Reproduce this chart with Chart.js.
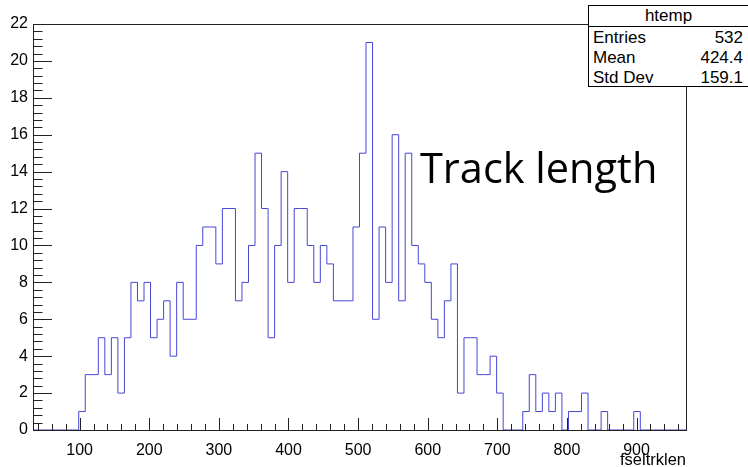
<!DOCTYPE html>
<html>
<head>
<meta charset="utf-8">
<script src="https://cdn.jsdelivr.net/npm/chart.js@4.4.1/dist/chart.umd.min.js"></script>
<style>
    body { margin: 0; background: #fff; }
    #wrap { position: relative; width: 748px; height: 467px; overflow: hidden; }
    #stats {
        position: absolute; left: 588px; top: 5px; width: 160px; height: 82px;
        border: 1px solid #000; border-right: none; background: #fff;
        font-family: "Liberation Sans", Arial, sans-serif; font-size: 17px; color: #000;
        box-sizing: border-box;
    }
    #stats .head { height: 20px; line-height: 20px; text-align: center; border-bottom: 1px solid #000; }
    #stats .row { height: 20px; line-height: 21px; display: flex; justify-content: space-between; padding: 0 5px 0 4px; }
    #note {
        position: absolute; left: 420px; top: 147px;
        font-family: "Open Sans", sans-serif; font-size: 41.5px; line-height: 41px; color: #000;
        white-space: nowrap;
    }
</style>
</head>
<body>
<div id="wrap">
    <canvas id="hist" width="748" height="467"></canvas>
    <div id="stats"></div>
    <div id="note">Track length</div>
</div>
<script>
// histogram range and bin contents (100 bins)
const xMin = 33;
const xMax = 971;
const counts = [
    0, 0, 0, 0, 0, 0, 0,
    1, 3, 3, 5, 3, 5, 2, 5, 8, 7, 8, 5, 6, 7, 4, 8, 6, 6,
    10, 11, 11, 9, 12, 12, 7, 8, 10, 15, 12, 5, 10, 14, 8, 12, 12, 10, 8, 10, 9, 7, 7, 7, 11, 15, 21,
    6, 11, 8, 16, 7, 15, 10, 9, 8, 6, 5, 7, 9, 2, 5, 5, 3, 3, 4, 2,
    0, 0, 0,
    1, 3, 1, 2, 1, 2, 0, 1, 1, 2, 0, 0, 1, 0, 0, 0, 0, 1,
    0, 0, 0, 0, 0, 0, 0
];
const xTicks = [100, 200, 300, 400, 500, 600, 700, 800, 900];
const yTicks = [0, 2, 4, 6, 8, 10, 12, 14, 16, 18, 20, 22];

// stats box
const statNames = ["Entries", "Mean", "Std Dev"];
const statValues = ["532", "424.4", "159.1"];

const stats = document.getElementById("stats");
stats.innerHTML = '<div class="head">htemp</div>' +
    statNames.map((n, i) => `<div class="row"><span>${n}</span><span>${statValues[i]}</span></div>`).join("");

// bin edges -> stepped line points
const binW = (xMax - xMin) / counts.length;
const points = counts.map((c, i) => ({ x: xMin + i * binW, y: c }));
points.push({ x: xMax, y: counts[counts.length - 1] });

// ROOT-like frame with inward ticks
const rootFrame = {
    id: "rootFrame",
    afterDatasetsDraw(chart) {
        const { ctx, chartArea: a, scales: { x, y } } = chart;
        ctx.save();
        ctx.strokeStyle = "#222";
        ctx.lineWidth = 1;
        ctx.beginPath();
        // x ticks every 20
        for (let v = 40; v < xMax; v += 20) {
            const px = Math.round(x.getPixelForValue(v)) + 0.5;
            const len = v % 100 === 0 ? 12 : 6;
            ctx.moveTo(px, a.bottom);
            ctx.lineTo(px, a.bottom - len);
        }
        // y ticks every 0.4
        for (let k = 0; k <= 55; k++) {
            const py = Math.round(y.getPixelForValue(k * 0.4)) + 0.5;
            const len = k % 5 === 0 ? 19 : 9.5;
            ctx.moveTo(a.left, py);
            ctx.lineTo(a.left + len, py);
        }
        ctx.stroke();
        ctx.strokeRect(a.left + 0.5, a.top + 0.5, a.right - a.left, a.bottom - a.top);
        ctx.restore();
    }
};

new Chart(document.getElementById("hist"), {
    type: "line",
    data: {
        datasets: [{
            label: "htemp",
            data: points,
            stepped: "before",
            borderColor: "#4646d8",
            borderWidth: 1,
            pointRadius: 0,
            fill: false
        }]
    },
    options: {
        responsive: false,
        animation: false,
        devicePixelRatio: 1,
        layout: { padding: { top: 24, right: 62, left: 0, bottom: 0 } },
        plugins: { legend: { display: false }, tooltip: { enabled: false } },
        scales: {
            x: {
                type: "linear",
                min: xMin,
                max: xMax,
                grid: { display: false, drawTicks: false },
                border: { display: false },
                afterBuildTicks: s => { s.ticks = xTicks.map(v => ({ value: v })); },
                afterFit: s => { s.height = 37; },
                ticks: {
                    color: "#000",
                    padding: 11,
                    maxRotation: 0,
                    autoSkip: false,
                    font: { family: "Liberation Sans", size: 16 }
                },
                title: {
                    display: true,
                    text: "fseltrklen",
                    align: "end",
                    color: "#000",
                    padding: { top: 0, bottom: -2 },
                    font: { family: "Liberation Sans", size: 16.5, lineHeight: 1 }
                }
            },
            y: {
                min: 0,
                max: 22,
                grid: { display: false, drawTicks: false },
                border: { display: false },
                afterBuildTicks: s => { s.ticks = yTicks.map(v => ({ value: v })); },
                afterFit: s => { s.width = 33; },
                ticks: {
                    color: "#000",
                    padding: 5,
                    font: { family: "Liberation Sans", size: 16 }
                }
            }
        }
    },
    plugins: [rootFrame]
});
</script>
</body>
</html>
